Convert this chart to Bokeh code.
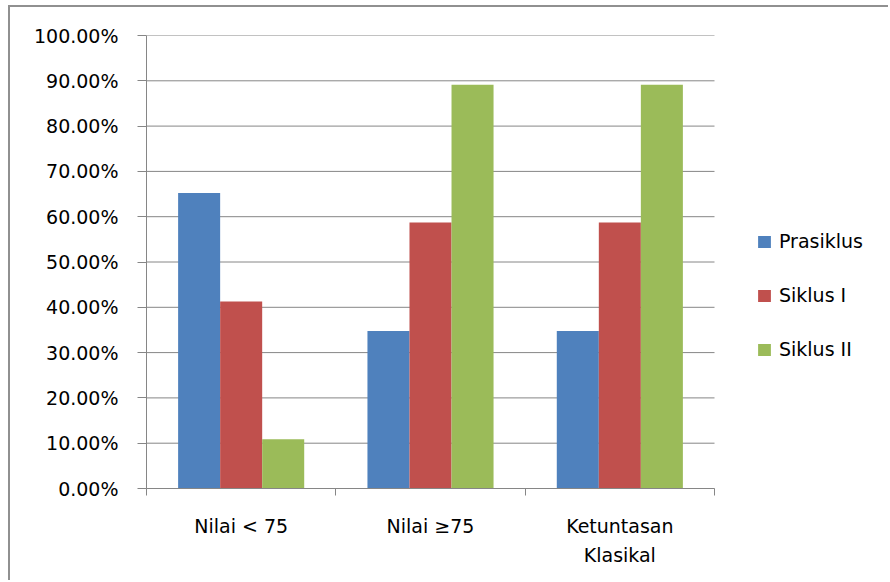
from bokeh.plotting import figure
from bokeh.models import (ColumnDataSource, Range1d, FixedTicker, NumeralTickFormatter,
                          Legend, LegendItem)
from bokeh.embed import file_html
from bokeh.resources import INLINE

categories = ["Nilai < 75", "Nilai \u226575", "Ketuntasan\nKlasikal"]
series = ["Prasiklus", "Siklus I", "Siklus II"]
prasiklus = [0.6522, 0.3478, 0.3478]
siklus1 = [0.4130, 0.5870, 0.5870]
siklus2 = [0.1087, 0.8913, 0.8913]
colors = ["#4F81BD", "#C0504D", "#9BBB59"]
y_ticks = [0.0, 0.1, 0.2, 0.3, 0.4, 0.5, 0.6, 0.7, 0.8, 0.9, 1.0]

FONT = "DejaVu Sans"
GRAY = "#868686"
FS = "19px"

n = len(categories)
# frame spans from x=136 to x=880 inside the canvas; categories occupy 568 px of it
x_end = n * 744 / 568

p = figure(width=880, height=575, output_backend="svg", toolbar_location=None,
           x_range=Range1d(0, x_end), y_range=Range1d(0, 1),
           min_border_left=136, min_border_right=0, min_border_top=28, min_border_bottom=94,
           margin=(5, 0, 0, 8))
p.styles = {"border-left": "2px solid #909090", "border-top": "2px solid #909090"}
p.outline_line_color = None
p.background_fill_color = "white"
p.border_fill_color = "white"

# horizontal gridlines limited to the category area
p.segment(x0=[0] * len(y_ticks), x1=[n] * len(y_ticks), y0=y_ticks, y1=y_ticks,
          line_color=GRAY, line_width=1)

centers = [i + 0.5 for i in range(n)]
offsets = [-0.222, 0.0, 0.222]
renderers = []
for vals, off, col in zip([prasiklus, siklus1, siklus2], offsets, colors):
    src = ColumnDataSource(dict(x=[c + off for c in centers], top=vals))
    r = p.vbar(x="x", top="top", bottom=0, width=0.222, source=src,
               fill_color=col, line_color=None)
    renderers.append(r)

# x axis
p.xaxis.ticker = FixedTicker(ticks=centers, minor_ticks=list(range(n + 1)))
p.xaxis.bounds = (0, n)
p.xaxis.major_label_overrides = {c: lab for c, lab in zip(centers, categories)}
p.xaxis.major_tick_out = 0
p.xaxis.major_tick_in = 0
p.xaxis.minor_tick_out = 7
p.xaxis.minor_tick_in = 0
p.xaxis.minor_tick_line_color = GRAY
p.xaxis.axis_line_color = GRAY
p.xaxis.major_label_standoff = 19
p.xaxis.major_label_text_font = FONT
p.xaxis.major_label_text_font_size = FS
p.xaxis.major_label_text_color = "#000000"
p.xaxis.major_label_text_line_height = 1.35
p.xgrid.grid_line_color = None
p.ygrid.grid_line_color = None

# y axis
p.yaxis.ticker = FixedTicker(ticks=y_ticks)
p.yaxis.formatter = NumeralTickFormatter(format="0.00%")
p.yaxis.major_tick_out = 9
p.yaxis.major_tick_in = 0
p.yaxis.minor_tick_line_color = None
p.yaxis.major_tick_line_color = GRAY
p.yaxis.axis_line_color = GRAY
p.yaxis.major_label_standoff = 19
p.yaxis.major_label_text_font = FONT
p.yaxis.major_label_text_font_size = FS
p.yaxis.major_label_text_color = "#000000"

legend = Legend(items=[LegendItem(label=s, renderers=[r]) for s, r in zip(series, renderers)],
                location=(610, 128), padding=0, margin=0, border_line_color=None,
                background_fill_alpha=0, glyph_width=16, glyph_height=15,
                label_standoff=7, label_height=20, spacing=32,
                label_text_font=FONT, label_text_font_size=FS, label_text_color="#000000")
p.add_layout(legend, "center")

open("out.html", "w").write(file_html(p, INLINE))
